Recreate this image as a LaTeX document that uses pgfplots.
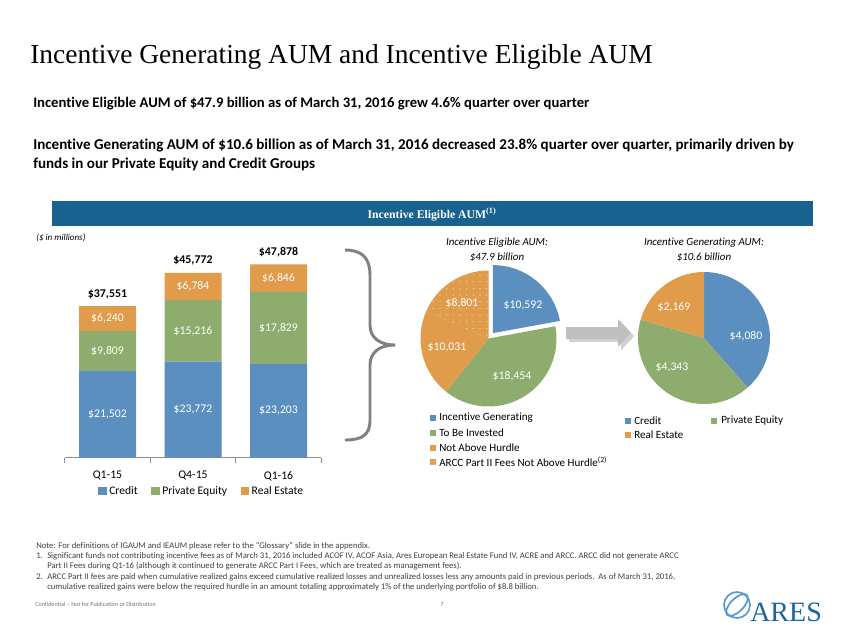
\documentclass[border=0pt]{standalone}
\usepackage{pgfplots}
\pgfplotsset{compat=1.18}
\usepackage{pgfplotstable}
\usepackage{fontspec}
\setmainfont{Carlito}[Ligatures={NoCommon}]
\newfontfamily\seriffont{Liberation Serif}
\usetikzlibrary{patterns,patterns.meta,shadows}
\definecolor{cblue}{HTML}{5B8FBF}
\definecolor{cgreen}{HTML}{8EAC6E}
\definecolor{corange}{HTML}{E09B4B}
\definecolor{bandblue}{HTML}{17628F}
\definecolor{aresblue}{HTML}{1B65A6}
\definecolor{globeblue}{HTML}{5A9BD5}
\definecolor{notegray}{HTML}{404040}

\pgfplotstableread{
x credit pe re
0 21502 9809 6240
1 23772 15216 6784
2 23203 17829 6846
}\aumdata

\begin{document}
\begin{tikzpicture}
\begin{scope}[x=0.75pt,y=-0.75pt]
\path[fill=white,use as bounding box] (0,0) rectangle (847,635);
% titles
\node[anchor=base west,inner sep=0] at (30,64) {\seriffont\fontsize{20.6}{24}\selectfont Incentive Generating AUM and Incentive Eligible AUM};
\node[anchor=base west,inner sep=0] at (33,108) {\bfseries\fontsize{11}{13}\selectfont Incentive Eligible AUM of \$47.9 billion as of March 31, 2016 grew 4.6\% quarter over quarter};
\node[anchor=base west,inner sep=0] at (33,150) {\bfseries\fontsize{11.3}{13}\selectfont Incentive Generating AUM of \$10.6 billion as of March 31, 2016 decreased 23.8\% quarter over quarter, primarily driven by};
\node[anchor=base west,inner sep=0] at (33,169) {\bfseries\fontsize{11.3}{13}\selectfont funds in our Private Equity and Credit Groups};
% band
\fill[bandblue] (52,201) rectangle (813,226);
\node[text=white] at (432,214) {\seriffont\bfseries\fontsize{8.8}{10}\selectfont Incentive Eligible AUM\textsuperscript{(1)}};
\node[anchor=base west,inner sep=0] at (36,240) {\itshape\fontsize{6.8}{8}\selectfont (\$ in millions)};
% brace
\draw[color=black!50,line width=2.2pt] (345,250) .. controls (362,250) and (370,258) .. (370,275) -- (370,325) .. controls (370,338) and (380,345) .. (395,345) .. controls (380,345) and (370,352) .. (370,365) -- (370,420) .. controls (370,435) and (362,440) .. (345,440);
% arrow
\fill[black!25,drop shadow={opacity=0.35}] (566,327) -- (618,327) -- (618,319) -- (631,333) -- (618,347) -- (618,339) -- (566,339) -- cycle;
% pie titles
\node[align=center,font=\itshape\fontsize{8.2}{11.25}\selectfont] at (497,250) {Incentive Eligible AUM:\\\$47.9 billion};
\node[align=center,font=\itshape\fontsize{8.2}{11.25}\selectfont] at (704,250) {Incentive Generating AUM:\\\$10.6 billion};
\end{scope}

% pie 1
\edef\tot{\fpeval{10592+18454+10031+8801}}
\edef\aA{\fpeval{90-360*10592/\tot}}
\edef\aB{\fpeval{\aA-360*18454/\tot}}
\edef\aC{\fpeval{\aB-360*10031/\tot}}
\edef\mA{\fpeval{(90+\aA)/2}}
\begin{scope}[shift={(366.375pt,-253.875pt)},x=0.75pt,y=0.75pt]
\fill[cblue] (\mA:7) -- ++(90:68) arc[start angle=90,end angle=\aA,radius=68] -- cycle;
\fill[cgreen] (0,0) -- (\aA:68) arc[start angle=\aA,end angle=\aB,radius=68] -- cycle;
\fill[corange] (0,0) -- (\aB:68) arc[start angle=\aB,end angle=\aC,radius=68] -- cycle;
\fill[corange] (0,0) -- (\aC:68) arc[start angle=\aC,end angle=-270,radius=68] -- cycle;
\fill[pattern={Dots[distance=5pt,radius=0.4pt]},pattern color=white!80!corange] (0,0) -- (\aC:68) arc[start angle=\aC,end angle=-270,radius=68] -- cycle;
\end{scope}
% pie 2
\edef\totB{\fpeval{4080+4343+2169}}
\edef\bA{\fpeval{90-360*4080/\totB}}
\edef\bB{\fpeval{\bA-360*4343/\totB}}
\begin{scope}[shift={(528pt,-253.5pt)},x=0.75pt,y=0.75pt]
\fill[cblue] (0,0) -- (90:66) arc[start angle=90,end angle=\bA,radius=66] -- cycle;
\fill[cgreen] (0,0) -- (\bA:66) arc[start angle=\bA,end angle=\bB,radius=66] -- cycle;
\fill[corange] (0,0) -- (\bB:66) arc[start angle=\bB,end angle=-270,radius=66] -- cycle;
\end{scope}

\begin{scope}[x=0.75pt,y=-0.75pt]
\tikzset{pl/.style={text=white,font=\fontsize{8.8}{10}\selectfont}}
\node[pl] at (523,305) {\$10,592};
\node[pl] at (462,303) {\$8,801};
\node[pl] at (447,347) {\$10,031};
\node[pl] at (512,376) {\$18,454};
\node[pl] at (674,307) {\$2,169};
\node[pl] at (746,336) {\$4,080};
\node[pl] at (672,367) {\$4,343};
% pie 1 legend
\tikzset{lg/.style={anchor=west,inner sep=0,font=\fontsize{8.3}{10}\selectfont}}
\fill[cblue] (430,415) rectangle (436,421); \node[lg] at (439,418) {Incentive Generating};
\fill[cgreen] (430,430) rectangle (436,436); \node[lg] at (439,433) {To Be Invested};
\fill[corange] (430,445) rectangle (436,451); \node[lg] at (439,448) {Not Above Hurdle};
\fill[corange] (430,459) rectangle (436,465);
\fill[pattern={Dots[distance=2pt,radius=0.35pt]},pattern color=white] (430,459) rectangle (436,465);
\node[lg] at (439,462) {ARCC Part II Fees Not Above Hurdle\textsuperscript{(2)}};
% pie 2 legend
\fill[cblue] (625,418) rectangle (631,424); \node[lg] at (634,421) {Credit};
\fill[cgreen] (711,418) rectangle (717,424); \node[lg] at (721,421) {Private Equity};
\fill[corange] (625,432) rectangle (631,438); \node[lg] at (634,435) {Real Estate};
% footnotes
\tikzset{fn/.style={anchor=base west,inner sep=0,text=notegray,font=\fontsize{6.5}{7}\selectfont}}
\node[fn] at (36,548) {Note: For definitions of IGAUM and IEAUM please refer to the “Glossary” slide in the appendix.};
\node[fn] at (36,558) {1.};
\node[fn] at (47,558) {Significant funds not contributing incentive fees as of March 31, 2016 included ACOF IV, ACOF Asia, Ares European Real Estate Fund IV, ACRE and ARCC. ARCC did not generate ARCC};
\node[fn] at (47,568) {Part II Fees during Q1-16 (although it continued to generate ARCC Part I Fees, which are treated as management fees).};
\node[fn] at (36,579) {2.};
\node[fn] at (47,579) {ARCC Part II fees are paid when cumulative realized gains exceed cumulative realized losses and unrealized losses less any amounts paid in previous periods.\ \ As of March 31, 2016,};
\node[fn] at (47,589) {cumulative realized gains were below the required hurdle in an amount totaling approximately 1\% of the underlying portfolio of \$8.8 billion.};
% footer
\node[anchor=base west,inner sep=0,text=black!55,font=\fontsize{4.6}{6}\selectfont] at (35,606) {Confidential – Not for Publication or Distribution};
\node[anchor=base west,inner sep=0,text=black!55,font=\fontsize{4.8}{6}\selectfont] at (440,606) {7};
% logo
\draw[globeblue,line width=1.3pt] (737,605) circle[radius=13];
\draw[globeblue,line width=1.3pt,rotate around={45:(737,605)}] (737,605) ellipse[x radius=14,y radius=6.5];
\node[anchor=base west,inner sep=0,text=aresblue] at (750,621) {\seriffont\fontsize{21}{22}\selectfont ARES};
\end{scope}

% bar chart
\begin{axis}[
  at={(48.56pt,-343.28pt)},anchor=south west,
  scale only axis,width=192.4pt,height=151.5pt,
  ybar stacked,bar width=42.75pt,
  xmin=-0.5,xmax=2.5,ymin=0,ymax=50000,
  clip=false,
  axis y line=none,axis x line*=bottom,
  x axis line style={-,draw=black!45,line width=0.75pt},
  xtick={0,1,2},xticklabels={Q1-15,Q4-15,Q1-16},
  minor xtick={-0.5,0.5,1.5,2.5},
  tick align=outside,major tick length=0pt,minor tick length=4pt,
  every minor tick/.style={draw=black!45,line width=0.75pt},
  xticklabel style={font=\fontsize{8.8}{10}\selectfont,yshift=-6.5pt},
  nodes near coords={\$\pgfmathprintnumber[assume math mode=true]{\rawy}},
  every node near coord/.append style={text=white,font=\fontsize{8.8}{10}\selectfont,anchor=center},
  legend style={at={(0.535,-0.165)},anchor=center,draw=none,fill=none,legend columns=-1,font=\fontsize{8.7}{10}\selectfont,
    /tikz/every even column/.append style={column sep=8pt}},
  legend image code/.code={\fill[#1] (0pt,-3.2pt) rectangle (6.4pt,3.2pt);},
]
\addplot[fill=cblue,draw=none,visualization depends on={\thisrow{credit} \as \rawy}] table[x=x,y=credit]{\aumdata};
\addplot[fill=cgreen,draw=none,visualization depends on={\thisrow{pe} \as \rawy}] table[x=x,y=pe]{\aumdata};
\addplot[fill=corange,draw=none,visualization depends on={\thisrow{re} \as \rawy}] table[x=x,y=re]{\aumdata};
\legend{Credit,Private Equity,Real Estate}
\end{axis}
\begin{axis}[
  at={(48.56pt,-343.28pt)},anchor=south west,
  scale only axis,width=192.4pt,height=151.5pt,
  xmin=-0.5,xmax=2.5,ymin=0,ymax=50000,
  hide axis,clip=false,
]
\addplot[draw=none,mark=none,nodes near coords,point meta=explicit symbolic,
  nodes near coords style={anchor=south,font=\bfseries\fontsize{8.9}{10}\selectfont,yshift=2pt}]
  coordinates {(0,37551) [{\$37,551}] (1,45772) [{\$45,772}] (2,47878) [{\$47,878}]};
\end{axis}
\end{tikzpicture}
\end{document}
